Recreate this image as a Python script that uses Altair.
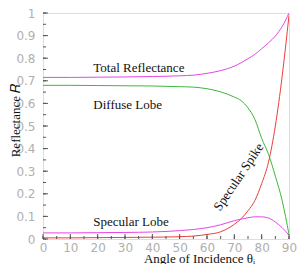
import altair as alt
import pandas as pd

angles = [0, 10, 20, 30, 40, 50, 55, 60, 65, 70, 72.5, 75, 77.5, 80, 82.5, 85, 87.5, 90]
total = [0.715, 0.715, 0.716, 0.717, 0.719, 0.722, 0.725, 0.733, 0.745, 0.765, 0.78, 0.798, 0.817, 0.842, 0.868, 0.898, 0.94, 1.0]
diffuse = [0.68, 0.68, 0.679, 0.678, 0.677, 0.674, 0.672, 0.665, 0.651, 0.628, 0.612, 0.58, 0.53, 0.445, 0.375, 0.278, 0.17, 0.02]
spike = [0.005, 0.005, 0.006, 0.007, 0.008, 0.01, 0.013, 0.02, 0.032, 0.065, 0.09, 0.125, 0.17, 0.245, 0.34, 0.5, 0.72, 0.99]
lobe = [0.027, 0.027, 0.028, 0.029, 0.031, 0.037, 0.042, 0.05, 0.063, 0.081, 0.088, 0.094, 0.098, 0.098, 0.093, 0.075, 0.05, 0.017]

series_names = ["Total", "Diffuse", "Spike", "Lobe"]
series_vals = [total, diffuse, spike, lobe]
series_colors = ["#e645e6", "#3cb83c", "#f03c3c", "#e645e6"]

labels_text = ["Total Reflectance", "Diffuse Lobe", "Specular Lobe", "Specular Spike"]
labels_x = [18.4, 18.4, 18.4, 71.6]
labels_y = [0.756, 0.594, 0.077, 0.274]
labels_angle = [0, 0, 0, 304]
labels_align = ["left", "left", "left", "center"]

xticks = list(range(0, 91, 10))
yticks = [round(i * 0.1, 1) for i in range(11)]
xminor = list(range(0, 91, 5))
yminor = [round(i * 0.05, 2) for i in range(21)]

PLOT_W = 246
PLOT_H = 226

rows = []
for name, vals in zip(series_names, series_vals):
    for a, v in zip(angles, vals):
        rows.append({"series": name, "angle": a, "R": v})
df = pd.DataFrame(rows)

xscale = alt.Scale(domain=[0, 90], nice=False, zero=False)
yscale = alt.Scale(domain=[0, 1], nice=False, zero=False)

x_axis = alt.Axis(values=xticks, title="Angle of Incidence θᵢ", format="d",
                  ticks=False, domain=False, grid=False, labelOverlap=False,
                  labelColor="#b0b0b0", labelFont="DejaVu Sans", labelFontSize=12,
                  labelPadding=3, labelFlush=False,
                  titleFont="Liberation Serif", titleFontSize=13, titleFontWeight="normal",
                  titleColor="#111111", titleX=156, titleY=23, titleBaseline="alphabetic",
                  titleAnchor="middle")
y_axis = alt.Axis(values=yticks, title="Reflectance 𝑅", ticks=False, domain=False, grid=False,
                  labelOverlap=False,
                  labelColor="#b0b0b0", labelFont="DejaVu Sans", labelFontSize=12,
                  labelPadding=8, labelFlush=False,
                  labelExpr="datum.value == 0 ? '0' : datum.value == 1 ? '1' : format(datum.value, '.1f')",
                  titleFont="Liberation Serif", titleFontSize=13, titleFontWeight="normal",
                  titleColor="#111111", titleX=-28, titleY=107, titleAngle=270,
                  titleBaseline="middle")

lines = alt.Chart(df).mark_line(strokeWidth=1, interpolate="monotone", clip=True).encode(
    x=alt.X("angle:Q", scale=xscale, axis=x_axis),
    y=alt.Y("R:Q", scale=yscale, axis=y_axis),
    color=alt.Color("series:N", scale=alt.Scale(domain=series_names, range=series_colors), legend=None),
    detail="series:N",
)

ldf = pd.DataFrame({"text": labels_text, "x": labels_x, "y": labels_y,
                    "angle": labels_angle, "align": labels_align})
texts = []
for i in range(len(labels_text)):
    sub = ldf.iloc[[i]]
    texts.append(alt.Chart(sub).mark_text(font="Liberation Serif", fontSize=13, color="#111111",
                                          align=labels_align[i], baseline="middle",
                                          angle=labels_angle[i]).encode(
        x=alt.X("x:Q", scale=xscale, axis=x_axis), y=alt.Y("y:Q", scale=yscale, axis=y_axis),
        text="text:N"))

ytick_df = pd.DataFrame({"v": yticks})
xtick_df = pd.DataFrame({"v": xticks})
yminor_df = pd.DataFrame({"v": yminor})
xminor_df = pd.DataFrame({"v": xminor})

tick_color = "#555555"
ytk = alt.Chart(ytick_df).mark_rule(color=tick_color, strokeWidth=1).encode(
    y=alt.Y("v:Q", scale=yscale, axis=y_axis), x=alt.value(0), x2=alt.value(5))
xtk = alt.Chart(xtick_df).mark_rule(color=tick_color, strokeWidth=1).encode(
    x=alt.X("v:Q", scale=xscale, axis=x_axis), y=alt.value(PLOT_H), y2=alt.value(PLOT_H - 5))
ymn = alt.Chart(yminor_df).mark_rule(color=tick_color, strokeWidth=1).encode(
    y=alt.Y("v:Q", scale=yscale, axis=y_axis), x=alt.value(0), x2=alt.value(3))
xmn = alt.Chart(xminor_df).mark_rule(color=tick_color, strokeWidth=1).encode(
    x=alt.X("v:Q", scale=xscale, axis=x_axis), y=alt.value(PLOT_H), y2=alt.value(PLOT_H - 3))

chart = alt.layer(lines, ymn, xmn, ytk, xtk, *texts).properties(
    width=PLOT_W, height=PLOT_H,
    autosize=alt.AutoSizeParams(type="none"),
    padding={"left": 35, "top": 5, "right": 8, "bottom": 25},
).configure_view(stroke="#404040", strokeWidth=1).configure(background="white")

chart.save("out.html", embed_options={"renderer": "svg", "actions": False})
